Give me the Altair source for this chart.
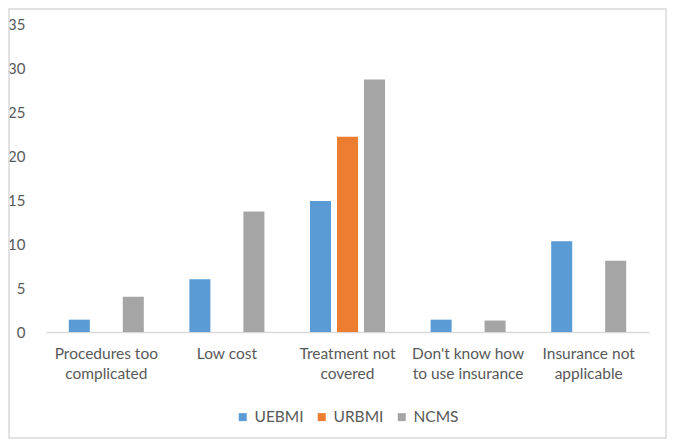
import altair as alt
import pandas as pd

categories = ["Procedures too|complicated", "Low cost", "Treatment not|covered",
              "Don't know how|to use insurance", "Insurance not|applicable"]
series = ["UEBMI", "URBMI", "NCMS"]
uebmi = [1.4, 6.0, 14.9, 1.4, 10.3]
urbmi = [0, 0, 22.2, 0, 0]
ncms = [4.0, 13.7, 28.7, 1.3, 8.1]
colors = ["#5B9BD5", "#ED7D31", "#A5A5A5"]
y_ticks = [0, 5, 10, 15, 20, 25, 30, 35]

rows = []
for i, c in enumerate(categories):
    for s, vals in zip(series, [uebmi, urbmi, ncms]):
        if vals[i] > 0:
            rows.append({"cat": c, "series": s, "value": vals[i]})
df = pd.DataFrame(rows)

W, H = 603, 308
FONT = "Lato"

bars = alt.Chart(df).mark_bar().encode(
    x=alt.X("cat:N", sort=categories,
            scale=alt.Scale(domain=categories, paddingInner=0, paddingOuter=0),
            axis=alt.Axis(title=None, labelAngle=0, ticks=False,
                          labelExpr="split(datum.label, '|')",
                          labelLineHeight=20, labelFontSize=15.5, labelFont=FONT,
                          labelColor="#595959", labelPadding=14, labelBaseline="top",
                          domainColor="#D9D9D9", domainWidth=1.5, grid=False)),
    xOffset=alt.XOffset("series:N", sort=series,
                        scale=alt.Scale(domain=series, paddingInner=0.222, paddingOuter=0.844)),
    y=alt.Y("value:Q", scale=alt.Scale(domain=[0, 35], nice=False),
            axis=alt.Axis(title=None, values=y_ticks, ticks=False, domain=False, grid=False,
                          labelFontSize=15, labelFont=FONT, labelColor="#595959",
                          labelPadding=21)),
    color=alt.Color("series:N", sort=series,
                    scale=alt.Scale(domain=series, range=colors),
                    legend=alt.Legend(title=None, orient="none", direction="horizontal",
                                      legendX=189, legendY=385, symbolType="square",
                                      symbolSize=64, symbolStrokeWidth=0,
                                      labelFontSize=15.5, labelFont=FONT, labelColor="#595959",
                                      columnPadding=10, labelOffset=4, padding=0)),
)

border = alt.Chart(pd.DataFrame({"k": [0]})).mark_rect(
    fill=None, stroke="#D9D9D9", strokeWidth=1.5, clip=False
).encode(x=alt.value(-37), x2=alt.value(W + 17), y=alt.value(-15), y2=alt.value(H + 106))

chart = alt.layer(border, bars).properties(
    width=W, height=H,
    autosize=alt.AutoSizeParams(type="none"),
    padding={"left": 38, "top": 16, "right": 18, "bottom": 107},
    background="white",
).configure_view(stroke=None)

chart.save("out.html", embed_options={"renderer": "svg", "actions": False})
